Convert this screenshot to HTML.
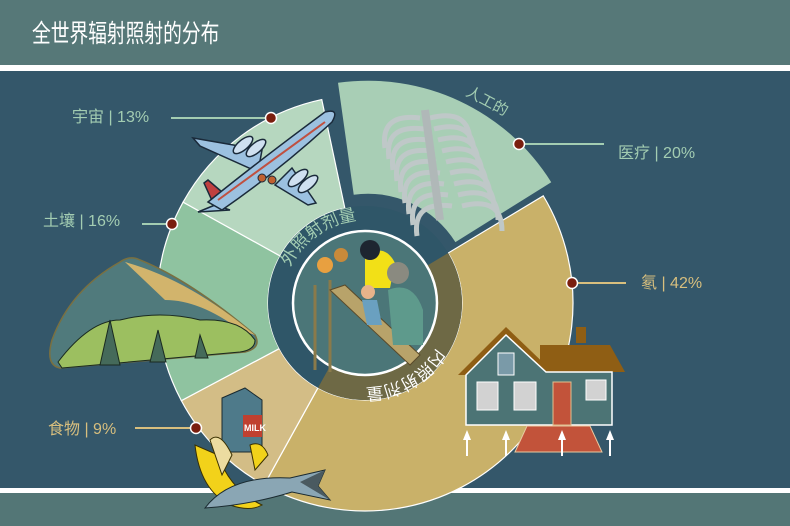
<!DOCTYPE html>
<html><head><meta charset="utf-8"><style>
html,body{margin:0;padding:0;width:790px;height:526px;overflow:hidden;background:#34576a}
svg{display:block}
text{font-family:"Liberation Sans","Noto Sans CJK SC",sans-serif}
</style></head><body>
<svg width="790" height="526" viewBox="0 0 790 526" xmlns="http://www.w3.org/2000/svg">
<rect x="0" y="0" width="790" height="526" fill="#34576a"/>
<rect x="0" y="0" width="790" height="65" fill="#567878"/>
<rect x="0" y="65" width="790" height="6" fill="#ffffff"/>
<text x="32" y="42" font-size="25" fill="#ffffff" transform="translate(32 0) scale(0.75 1) translate(-32 0)">全世界辐射照射的分布</text>
<rect x="0" y="488" width="790" height="5" fill="#ffffff"/>
<rect x="0" y="493" width="790" height="33" fill="#537676"/>

<g id="pie"></g>

<!-- labels -->
<g font-size="16">
<text x="72" y="122" fill="#a3cdb2">宇宙 | 13%</text>
<text x="43" y="226" fill="#a3cdb2">土壤 | 16%</text>
<text x="48" y="434" fill="#d8bf7e">食物 | 9%</text>
<text x="618" y="158" fill="#a3cdb2">医疗 | 20%</text>
<text x="641" y="288" fill="#d8bf7e">氡 | 42%</text>
</g>
<g stroke-width="2">
<line x1="171" y1="118" x2="270" y2="118" stroke="#a3cdb2"/>
<line x1="142" y1="224" x2="172" y2="224" stroke="#a3cdb2"/>
<line x1="135" y1="428" x2="195" y2="428" stroke="#d8bf7e"/>
<line x1="520" y1="144" x2="604" y2="144" stroke="#a3cdb2"/>
<line x1="572" y1="283" x2="626" y2="283" stroke="#d8bf7e"/>
</g>
<g fill="#7a1e0e" stroke="#ffffff" stroke-width="1.5">
<circle cx="271" cy="118" r="5.5"/><circle cx="172" cy="224" r="5.5"/>
<circle cx="196" cy="428" r="5.5"/><circle cx="519" cy="144" r="5.5"/>
<circle cx="572" cy="283" r="5.5"/>
</g>
</svg>
<script>
(function(){
var NS="http://www.w3.org/2000/svg";
var cx=365,cy=303,R=208,rin=97;
function P(r,a,ox,oy){a=a*Math.PI/180;return [(ox||0)+cx+r*Math.cos(a),(oy||0)+cy+r*Math.sin(a)];}
function sector(a1,a2,r1,r2,ox,oy){
 var p1=P(r2,a1,ox,oy),p2=P(r2,a2,ox,oy),p3=P(r1,a2,ox,oy),p4=P(r1,a1,ox,oy);
 var l=(a2-a1)>180?1:0;
 return "M"+p1+" A"+r2+" "+r2+" 0 "+l+" 1 "+p2+" L"+p3+" A"+r1+" "+r1+" 0 "+l+" 0 "+p4+"Z";
}
var g=document.getElementById("pie");
function add(tag,attrs,parent){var e=document.createElementNS(NS,tag);for(var k in attrs)e.setAttribute(k,attrs[k]);(parent||g).appendChild(e);return e;}
add("path",{d:sector(-31,119,rin,R),fill:"#c9b169",stroke:"#fff","stroke-width":1.2});
add("path",{d:sector(119,152,rin,R),fill:"#d3bd86",stroke:"#fff","stroke-width":1.2});
add("path",{d:sector(152,209,rin,R),fill:"#8fc3a0",stroke:"#fff","stroke-width":1.2});
add("path",{d:sector(209,258,rin,R),fill:"#b6d7bf",stroke:"#fff","stroke-width":1.2});
var b=-64*Math.PI/180;
add("path",{d:sector(262,328,rin+6,R+8,7*Math.cos(b),7*Math.sin(b)),fill:"#a8ceb5"});
add("circle",{cx:cx,cy:cy,r:rin,fill:"#2f5668"});
add("path",{d:sector(-31,119,72,rin),fill:"#6e6945"});
add("circle",{cx:cx,cy:cy,r:72,fill:"#4b7678",stroke:"#fff","stroke-width":2.5});
var defs=add("defs",{});
var a1=P(83,200),a2=P(83,300);
add("path",{id:"tp1",d:"M"+a1+" A83 83 0 0 1 "+a2},defs);
var b1=P(85,20),b2=P(85,120);
add("path",{id:"tp2",d:"M"+b1+" A85 85 0 0 1 "+b2},defs);
var t=add("text",{"font-size":17,fill:"#a3cdb2"});var tp=add("textPath",{href:"#tp1",startOffset:"8"},t);tp.textContent="外照射剂量";
var t2=add("text",{"font-size":17,fill:"#ffffff"});var tp2=add("textPath",{href:"#tp2",startOffset:"18"},t2);tp2.textContent="内照射剂量";
// slide scene
add("line",{x1:315,y1:285,x2:315,y2:370,stroke:"#8a7a4a","stroke-width":3});
add("line",{x1:330,y1:280,x2:330,y2:372,stroke:"#8a7a4a","stroke-width":3});
add("path",{d:"M330 290 L345 285 L420 355 L410 365 Z",fill:"#b8a36a",stroke:"#5a4a2a"});
add("path",{d:"M365 255 q20 -12 30 8 l-5 25 l-25 0 z",fill:"#f2e017"});
add("circle",{cx:370,cy:250,r:10,fill:"#1d2530"});
add("path",{d:"M388 290 q25 -10 35 20 l0 35 l-30 0 z",fill:"#5e9a8c"});
add("circle",{cx:398,cy:273,r:11,fill:"#8a8a80"});
add("circle",{cx:325,cy:265,r:8,fill:"#e8a040"});
add("circle",{cx:341,cy:255,r:7,fill:"#c88a3a"});
add("circle",{cx:368,cy:292,r:7,fill:"#e7b38a"});
add("path",{d:"M362 300 l15 0 l5 25 l-15 0 z",fill:"#6aa0c0"});
// plane
var st={stroke:"#1a2a3a","stroke-width":1.5,fill:"#9cc1e0"};
function A(o){var r={};for(var k in st)r[k]=st[k];for(var k in o)r[k]=o[k];return r;}
add("path",A({d:"M262 150 L193 138 L200 146 L258 172 Z"}));
add("path",A({d:"M292 168 L316 203 L308 205 L275 185 Z"}));
add("path",A({d:"M222 192 L208 180 L204 183 L214 205 Z",fill:"#c04040"}));
add("path",A({d:"M215 205 L198 212 L230 210 Z"}));
add("path",A({d:"M208 202 Q260 160 325 112 Q340 108 332 122 Q280 170 222 210 Z"}));
add("line",{x1:218,y1:200,x2:325,y2:122,stroke:"#c05040","stroke-width":2});
[[243,145],[256,148],[298,178],[308,184]].forEach(function(p){add("ellipse",A({cx:p[0],cy:p[1],rx:12,ry:5,transform:"rotate(-40 "+p[0]+" "+p[1]+")",fill:"#cfe0f0"}));});
add("circle",{cx:262,cy:178,r:4,fill:"#c06030",stroke:"#1a2a3a"});
add("circle",{cx:272,cy:180,r:4,fill:"#c06030",stroke:"#1a2a3a"});
// ribs
for(var i=0;i<9;i++){add("path",{d:"M"+(420+i*4)+" "+(118+i*11)+" q-40 -5 -35 30",fill:"none",stroke:"#bfc8c8","stroke-width":5});
 add("path",{d:"M"+(430+i*4)+" "+(118+i*11)+" q40 -10 40 25",fill:"none",stroke:"#bfc8c8","stroke-width":5});}
add("path",{d:"M425 110 L440 220",stroke:"#b0b8b8","stroke-width":8});
var tt=add("text",{"font-size":15,fill:"#a3cdb2",transform:"rotate(28 485 100)",x:465,y:105});tt.textContent="人工的";
// landscape
add("path",{d:"M52 340 Q70 290 120 262 Q130 255 140 260 Q190 280 255 335 Q262 348 245 352 L60 368 Q45 365 52 340 Z",fill:"#507a7c",stroke:"#7a7040","stroke-width":1.5});
add("path",{d:"M125 262 Q190 280 255 335 L240 330 Q200 300 165 300 Z",fill:"#d2b46c"});
add("path",{d:"M58 362 Q90 320 120 320 Q160 310 200 320 Q240 318 255 340 Q255 350 240 352 L62 368 Z",fill:"#9cbf60",stroke:"#1a2a20"});
add("path",{d:"M100 365 L110 320 L120 365 Z M150 362 L158 330 L166 362 Z M195 358 L200 335 L208 358 Z",fill:"#456a5a",stroke:"#1a2a20"});
// house
add("path",{d:"M540 345 L610 345 L625 372 L540 372 Z",fill:"#8f5e14"});
add("rect",{x:576,y:327,width:10,height:16,fill:"#8f5e14"});
add("path",{d:"M458 375 L506 327 L556 375 Z",fill:"#8f5e14"});
add("path",{d:"M466 375 L506 335 L546 372 L612 372 L612 425 L466 425 Z",fill:"#4c7475",stroke:"#fff","stroke-width":1.5});
add("rect",{x:498,y:353,width:16,height:22,fill:"#7a9aa8",stroke:"#fff"});
add("rect",{x:477,y:382,width:21,height:28,fill:"#d2d2d2",stroke:"#fff"});
add("rect",{x:514,y:382,width:22,height:28,fill:"#d2d2d2",stroke:"#fff"});
add("rect",{x:553,y:382,width:18,height:43,fill:"#c2533a",stroke:"#e0c090"});
add("rect",{x:586,y:380,width:20,height:20,fill:"#d2d2d2",stroke:"#fff"});
add("path",{d:"M527 426 L590 426 L602 452 L515 452 Z",fill:"#c2533a",stroke:"#e8c8a0"});
[467,506,562,610].forEach(function(x){add("line",{x1:x,y1:456,x2:x,y2:438,stroke:"#fff","stroke-width":2});add("path",{d:"M"+(x-4)+" 440 L"+x+" 430 L"+(x+4)+" 440Z",fill:"#fff"});});
// milk
add("path",{d:"M222 398 L245 388 L262 400 L262 452 L222 452 Z",fill:"#4e7a8a",stroke:"#1a2a30"});
add("rect",{x:243,y:415,width:19,height:22,fill:"#c04030"});
var mk=add("text",{x:244,y:431,"font-size":9,fill:"#fff","font-weight":"bold"});mk.textContent="MILK";
// banana & fish
add("path",{d:"M195 445 Q200 490 230 505 Q250 512 262 505 Q230 490 218 455 Z",fill:"#f2d21a",stroke:"#3a3000"});
add("path",{d:"M210 440 Q220 430 232 455 L222 475 Z",fill:"#ecdca0",stroke:"#3a3000"});
add("path",{d:"M250 445 Q262 440 268 455 L255 470 Z",fill:"#f2d21a",stroke:"#3a3000"});
add("path",{d:"M205 508 Q230 475 290 478 L325 470 L318 486 L330 500 L292 492 Q250 505 205 508 Z",fill:"#8aa6b4",stroke:"#1a2a30"});
add("path",{d:"M300 482 L325 470 L318 486 L330 500 Z",fill:"#4a5a60"});
})();
</script>
</body></html>
